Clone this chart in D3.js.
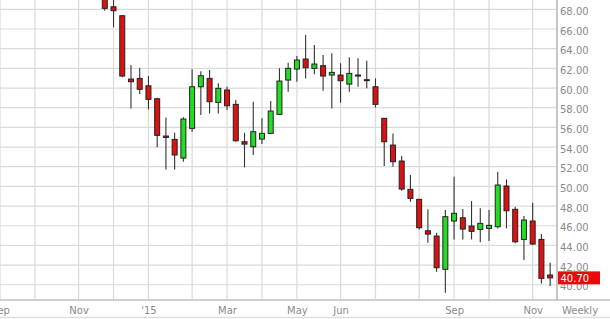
<!DOCTYPE html>
<html>
<head>
<meta charset="utf-8">
<script src="https://cdn.jsdelivr.net/npm/d3@7"></script>
<style>
	body { margin: 0; background: #fff; }
	svg text { font-family: "DejaVu Sans", sans-serif; font-size: 10px; fill: #8a8a8a; }
	.grid line { stroke: #dadada; stroke-width: 1.2; }
	.wick { stroke: #333; stroke-width: 1.1; }
	.body { stroke: #222; stroke-width: 1; }
</style>
</head>
<body>
<svg id="candle-vis" width="610" height="319">
	<g id="grid-x" class="grid"></g>
	<g id="grid-y" class="grid"></g>
	<g id="candles"></g>
	<g id="x-axis"></g>
	<g id="y-axis"></g>
	<g id="last-price"></g>
</svg>
<script>
// weekly bars, dated by the friday that closes the week
const weeks = [
	"2014-11-28", "2014-12-05", "2014-12-12", "2014-12-19", "2014-12-26",
	"2015-01-02", "2015-01-09", "2015-01-16", "2015-01-23", "2015-01-30",
	"2015-02-06", "2015-02-13", "2015-02-20", "2015-02-27",
	"2015-03-06", "2015-03-13", "2015-03-20", "2015-03-27",
	"2015-04-03", "2015-04-10", "2015-04-17", "2015-04-24",
	"2015-05-01", "2015-05-08", "2015-05-15", "2015-05-22", "2015-05-29",
	"2015-06-05", "2015-06-12", "2015-06-19", "2015-06-26",
	"2015-07-03", "2015-07-10", "2015-07-17", "2015-07-24", "2015-07-31",
	"2015-08-07", "2015-08-14", "2015-08-21", "2015-08-28",
	"2015-09-04", "2015-09-11", "2015-09-18", "2015-09-25",
	"2015-10-02", "2015-10-09", "2015-10-16", "2015-10-23", "2015-10-30",
	"2015-11-06", "2015-11-13", "2015-11-20"
];
const opens = [
	70.3, 68.26, 67.35, 60.91, 60.98,
	60.23, 58.91, 55.12, 54.78, 52.88,
	55.9, 60.13, 60.98, 58.54,
	59.8, 58.34, 54.54, 54.03,
	54.81, 55.39, 57.32, 60.81,
	61.93, 62.95, 62.0, 62.27, 61.32,
	61.32, 60.4, 61.32, 60.85,
	60.13, 56.92, 54.2, 52.58, 49.7,
	48.68, 45.49, 44.95, 41.57,
	46.48, 46.81, 45.97, 45.63,
	45.73, 45.9, 50.04, 47.67, 44.61,
	46.48, 44.61, 40.99
];
const highs = [
	70.8, 69.4, 67.4, 62.34, 62.06,
	61.22, 59.01, 57.0, 55.45, 57.02,
	61.9, 61.7, 61.83, 60.48,
	60.13, 58.78, 55.45, 58.61,
	56.92, 58.68, 62.0, 62.57,
	63.25, 65.39, 64.37, 63.35, 63.53,
	62.51, 63.12, 63.02, 62.77,
	60.98, 56.95, 55.39, 53.09, 51.15,
	48.75, 47.67, 45.29, 47.6,
	50.98, 47.7, 48.51, 47.77,
	47.6, 51.49, 50.71, 47.93, 46.99,
	48.34, 45.15, 42.24
];
const lows = [
	67.86, 66.17, 61.09, 57.93, 59.39,
	57.83, 53.97, 51.73, 51.73, 52.51,
	55.56, 57.25, 57.42, 57.42,
	57.76, 54.54, 51.93, 53.19,
	54.3, 55.3, 57.25, 59.62,
	60.64, 60.98, 61.39, 59.73, 57.93,
	58.51, 59.62, 60.13, 59.97,
	58.03, 52.07, 51.99, 49.56, 48.44,
	45.63, 44.27, 41.32, 39.19,
	44.61, 44.61, 44.61, 44.31,
	44.44, 45.73, 45.73, 44.21, 42.51,
	44.04, 40.14, 39.87
];
const closes = [
	68.1, 67.86, 61.22, 60.64, 59.87,
	58.85, 55.19, 54.98, 53.19, 56.85,
	60.13, 61.25, 58.61, 59.97,
	58.2, 54.64, 54.3, 55.56,
	55.39, 57.66, 60.71, 62.0,
	62.85, 62.06, 62.44, 61.22, 61.59,
	60.74, 61.49, 61.26, 60.79,
	58.34, 54.54, 52.51, 49.73, 48.78,
	45.8, 45.15, 41.73, 46.92,
	47.26, 45.66, 45.43, 46.24,
	46.04, 50.14, 47.52, 44.37, 46.58,
	44.14, 40.65, 40.70
];

// first weekly bar of every month gets a gridline
const xTickDates = [
	"2014-09-05", "2014-10-03", "2014-11-07", "2014-12-05",
	"2015-01-02", "2015-02-06", "2015-03-06", "2015-04-03",
	"2015-05-01", "2015-06-05", "2015-07-03", "2015-08-07",
	"2015-09-04", "2015-10-02", "2015-11-06"
];
const xTickLabels = [
	"Sep", "", "Nov", "",
	"'15", "", "Mar", "",
	"May", "Jun", "", "",
	"Sep", "", "Nov"
];
const yTicks = [40, 42, 44, 46, 48, 50, 52, 54, 56, 58, 60, 62, 64, 66, 68];
const periodLabel = "Weekly";
const lastPrice = 40.70;

const parseDate = d3.timeParse("%Y-%m-%d");

class Candlechart {
	constructor() {
		this.svg = d3.select("svg#candle-vis");
		this.bounds = {
			minX: 0,
			maxX: 557,
			minY: 0,
			maxY: 300,
		};
		this.bars = weeks.map((w, i) => ({
			date: parseDate(w),
			open: opens[i],
			high: highs[i],
			low: lows[i],
			close: closes[i],
		}));

		this.updateScaleX();
		this.updateScaleY();
		this.updateGrid();
		this.updateCandles();
		this.updateAxisX();
		this.updateAxisY();
		this.updateLastPrice();
	}

	updateScaleX() {
		// one week is about 8.73px, the view runs from early sep 2014 to late nov 2015
		let domain = [parseDate("2014-09-05"), new Date(2015, 10, 25, 12)];
		this.scaleX = d3.scaleTime().domain(domain).range([this.bounds.minX, this.bounds.maxX]);
	}

	updateScaleY() {
		this.scaleY = d3.scaleLinear().domain([38.45, 68.95]).range([this.bounds.maxY, this.bounds.minY]);
	}

	updateGrid() {
		this.svg.select("g#grid-x")
			.selectAll("line")
			.data(xTickDates.map(parseDate))
			.join("line")
			.attr("x1", d => this.scaleX(d))
			.attr("x2", d => this.scaleX(d))
			.attr("y1", this.bounds.minY)
			.attr("y2", this.bounds.maxY);

		this.svg.select("g#grid-y")
			.selectAll("line")
			.data(yTicks)
			.join("line")
			.attr("x1", this.bounds.minX)
			.attr("x2", this.bounds.maxX)
			.attr("y1", d => this.scaleY(d))
			.attr("y2", d => this.scaleY(d));
	}

	updateCandles() {
		this.svg.append("clipPath")
			.attr("id", "plot-clip")
			.append("rect")
			.attr("x", this.bounds.minX)
			.attr("y", this.bounds.minY)
			.attr("width", this.bounds.maxX - this.bounds.minX)
			.attr("height", this.bounds.maxY - this.bounds.minY);

		let g = this.svg.select("g#candles").attr("clip-path", "url(#plot-clip)");

		let candle = g.selectAll("g.candle")
			.data(this.bars)
			.join("g")
			.classed("candle", true)
			.attr("transform", d => `translate(${this.scaleX(d.date)} 0)`);

		candle.append("line")
			.classed("wick", true)
			.attr("x1", 0)
			.attr("x2", 0)
			.attr("y1", d => this.scaleY(d.high))
			.attr("y2", d => this.scaleY(d.low));

		candle.append("rect")
			.classed("body", true)
			.attr("x", -2.5)
			.attr("width", 5)
			.attr("y", d => this.scaleY(Math.max(d.open, d.close)))
			.attr("height", d => Math.max(1, Math.abs(this.scaleY(d.open) - this.scaleY(d.close))))
			.attr("fill", d => d.close >= d.open ? "#22dd22" : "#dd1111");
	}

	updateAxisX() {
		let axisG = this.svg.select("g#x-axis")
			.attr("transform", `translate(0 ${this.bounds.maxY})`);
		let xAxis = d3.axisBottom(this.scaleX)
			.tickValues(xTickDates.map(parseDate))
			.tickFormat((_, i) => xTickLabels[i])
			.tickSize(0)
			.tickPadding(7);
		axisG.call(xAxis);
		axisG.select(".domain").remove();

		axisG.append("text")
			.attr("x", 580)
			.attr("y", 7)
			.attr("dy", "0.71em")
			.attr("text-anchor", "middle")
			.text(periodLabel);

		// frame: bottom rule, right rule and the thin line at the foot
		this.svg.append("line")
			.attr("x1", 0).attr("x2", 610)
			.attr("y1", this.bounds.maxY).attr("y2", this.bounds.maxY)
			.attr("stroke", "#cfcfcf").attr("stroke-width", 2.2);
		this.svg.append("line")
			.attr("x1", this.bounds.maxX).attr("x2", this.bounds.maxX)
			.attr("y1", 0).attr("y2", this.bounds.maxY)
			.attr("stroke", "#a8a8a8").attr("stroke-width", 1.3);
		this.svg.append("line")
			.attr("x1", 0).attr("x2", 610)
			.attr("y1", 317.5).attr("y2", 317.5)
			.attr("stroke", "#dedede").attr("stroke-width", 1.5);
	}

	updateAxisY() {
		let axisG = this.svg.select("g#y-axis")
			.attr("transform", `translate(${this.bounds.maxX} 0)`);
		let yAxis = d3.axisRight(this.scaleY)
			.tickValues(yTicks)
			.tickFormat(d3.format(".2f"))
			.tickSize(0)
			.tickPadding(3);
		axisG.call(yAxis);
		axisG.select(".domain").remove();
		axisG.selectAll("text").attr("dy", "0.5em");
	}

	updateLastPrice() {
		let y = this.scaleY(lastPrice);
		let g = this.svg.select("g#last-price")
			.attr("transform", `translate(${this.bounds.maxX + 1} ${y})`);
		g.append("rect")
			.attr("x", 0)
			.attr("y", -6.5)
			.attr("width", 42)
			.attr("height", 13)
			.attr("fill", "#e60a0a");
		g.append("text")
			.attr("x", 2.5)
			.attr("dy", "0.38em")
			.style("fill", "#fff")
			.text(d3.format(".2f")(lastPrice));
	}
}

new Candlechart();
</script>
</body>
</html>
